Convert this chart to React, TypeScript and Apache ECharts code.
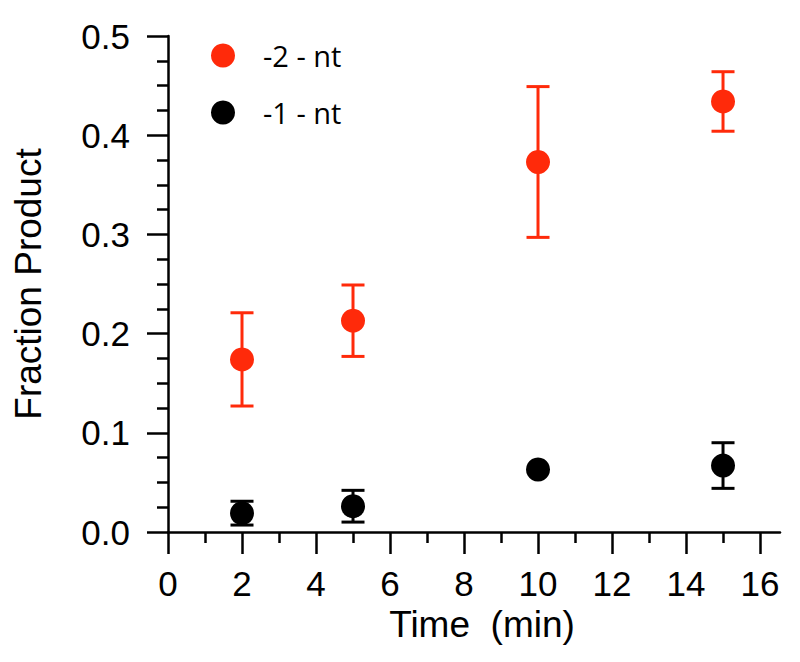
import React, { useEffect, useRef } from "react";
import * as echarts from "echarts";

const times = [2, 5, 10, 15];
const redMean = [0.174, 0.213, 0.373, 0.434];
const redErr = [0.047, 0.036, 0.076, 0.03];
const blackMean = [0.019, 0.026, 0.063, 0.067];
const blackErr = [0.012, 0.016, 0, 0.023];
const xMajorTicks = [0, 2, 4, 6, 8, 10, 12, 14, 16];
const xMinorTicks = [1, 3, 5, 7, 9, 11, 13, 15];
const seriesNames = ["-2 - nt", "-1 - nt"];

const RED = "#ff2a0a";
const BLACK = "#000000";
const AXIS_FONT = "'Liberation Sans', Arial, sans-serif";

function errData(mean: number[], err: number[]) {
  return times.map((t, i) => [t, mean[i] - err[i], mean[i] + err[i]]);
}

function errorBarSeries(mean: number[], err: number[], color: string) {
  return {
    type: "custom",
    xAxisIndex: 0,
    yAxisIndex: 0,
    z: 1,
    silent: true,
    data: errData(mean, err),
    renderItem: (params: any, api: any) => {
      const x = api.value(0);
      const lo = api.value(1);
      const hi = api.value(2);
      if (hi - lo <= 0) return null;
      const pLo = api.coord([x, lo]);
      const pHi = api.coord([x, hi]);
      const half = 11.5;
      const style = { stroke: color, lineWidth: 3 };
      return {
        type: "group",
        children: [
          { type: "line", shape: { x1: pLo[0], y1: pLo[1], x2: pHi[0], y2: pHi[1] }, style },
          { type: "line", shape: { x1: pLo[0] - half, y1: pLo[1], x2: pLo[0] + half, y2: pLo[1] }, style },
          { type: "line", shape: { x1: pHi[0] - half, y1: pHi[1], x2: pHi[0] + half, y2: pHi[1] }, style },
        ],
      };
    },
  };
}

export default function App() {
  const ref = useRef<HTMLDivElement>(null);
  useEffect(() => {
    if (!ref.current) return;
    const chart = echarts.init(ref.current, undefined, { renderer: "svg" });
    const axisLineStyle = { color: "#000", width: 2.5 };
    chart.setOption({
      animation: false,
      backgroundColor: "#fff",
      grid: { left: 168, right: 20, top: 36, bottom: 130 },
      legend: {
        orient: "vertical",
        left: 211,
        top: 41,
        padding: 0,
        itemWidth: 24,
        itemHeight: 24,
        itemGap: 28,
        icon: "circle",
        data: seriesNames,
        textStyle: {
          fontFamily: "'Open Sans', sans-serif",
          fontSize: 29,
          color: "#000",
          padding: [0, 0, 0, 23],
        },
      },
      xAxis: [
        {
          type: "value",
          position: "bottom",
          min: 0,
          max: 16.54,
          name: "Time  (min)",
          nameLocation: "middle",
          nameGap: 72,
          nameTextStyle: { fontFamily: AXIS_FONT, fontSize: 37, color: "#000", padding: [0, 0, 0, 16] },
          axisLine: { show: true, onZero: false, lineStyle: axisLineStyle },
          axisTick: { show: true, inside: false, length: 22, lineStyle: axisLineStyle, customValues: xMajorTicks },
          axisLabel: { show: true, margin: 34, fontFamily: AXIS_FONT, fontSize: 35, color: "#000", customValues: xMajorTicks },
          splitLine: { show: false },
        },
        {
          type: "value",
          position: "bottom",
          offset: 0,
          min: 0,
          max: 16.54,
          axisLine: { show: false, onZero: false },
          axisTick: { show: true, inside: false, length: 11, lineStyle: axisLineStyle, customValues: xMinorTicks },
          axisLabel: { show: false },
          splitLine: { show: false },
        },
      ],
      yAxis: {
        type: "value",
        min: 0,
        max: 0.5,
        interval: 0.1,
        name: "Fraction Product",
        nameLocation: "middle",
        nameRotate: 90,
        nameGap: 121,
        nameTextStyle: { fontFamily: AXIS_FONT, fontSize: 37, color: "#000" },
        axisLine: { show: true, lineStyle: axisLineStyle },
        axisTick: { show: true, inside: false, length: 21, lineStyle: axisLineStyle },
        minorTick: { show: true, splitNumber: 4, length: 11, lineStyle: axisLineStyle },
        axisLabel: {
          margin: 38,
          fontFamily: AXIS_FONT,
          fontSize: 35,
          color: "#000",
          formatter: (v: number) => v.toFixed(1),
        },
        splitLine: { show: false },
        minorSplitLine: { show: false },
      },
      series: [
        errorBarSeries(redMean, redErr, RED),
        errorBarSeries(blackMean, blackErr, BLACK),
        {
          name: seriesNames[0],
          type: "scatter",
          xAxisIndex: 0,
          z: 2,
          symbol: "circle",
          symbolSize: 24,
          itemStyle: { color: RED, opacity: 1 },
          data: times.map((t, i) => [t, redMean[i]]),
        },
        {
          name: seriesNames[1],
          type: "scatter",
          xAxisIndex: 0,
          z: 2,
          symbol: "circle",
          symbolSize: 24,
          itemStyle: { color: BLACK, opacity: 1 },
          data: times.map((t, i) => [t, blackMean[i]]),
        },
      ],
    });
    return () => chart.dispose();
  }, []);
  return <div ref={ref} style={{ width: 800, height: 662, position: "absolute", left: 0, top: 0 }} />;
}
